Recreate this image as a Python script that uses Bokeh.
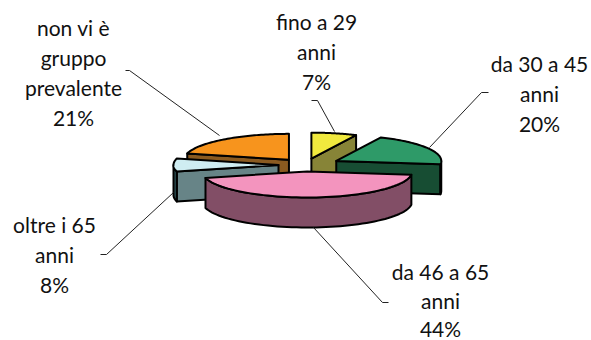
import numpy as np
from bokeh.plotting import figure
from bokeh.core.properties import value
from bokeh.embed import file_html
from bokeh.resources import INLINE

categories = ["fino a 29 anni", "da 30 a 45 anni", "da 46 a 65 anni", "oltre i 65 anni", "non vi è gruppo prevalente"]
shares = [7, 20, 44, 8, 21]
label_lines = [["fino a 29", "anni"], ["da 30 a 45", "anni"], ["da 46 a 65", "anni"], ["oltre i 65", "anni"], ["non vi è", "gruppo", "prevalente"]]
top_colors = ["#F0E93E", "#2E9A68", "#F394BE", "#CFEDF2", "#F7941D"]
side_colors = ["#878437", "#174D33", "#824E66", "#678487", "#8A5A20"]
wall_colors = ["#878437", "#174D33", "#824E66", "#2E5155", "#8A5A20"]

# layout of the projected pie
CX, CY, RX, RY, DEPTH, EX, EY = 305.0, 164.5, 105.0, 26.0, 30.0, 27.0, 6.5
explode = [1.0, 1.3, 1.0, 1.0, 1.0]
label_xy = [(316, 21), (539, 63), (440, 271), (54, 224), (73, 27)]
line_h = [30, 30, 28.5, 30, 30]
FONT = "Lato"
FONT_SIZE = "21px"
leaders = [
    [(311, 100), (317, 100), (334, 131)],
    [(488, 92), (481, 92), (429, 147)],
    [(388, 302), (382, 302), (313, 227)],
    [(100, 254), (106, 254), (173, 192)],
    [(125, 70), (129, 70), (219, 135)],
]
draw_order = [4, 0, 1, 3, 2]

p = figure(width=591, height=340, x_range=(0, 591), y_range=(340, 0),
           output_backend="svg", toolbar_location=None, min_border=0)
p.axis.visible = False
p.grid.visible = False
p.outline_line_color = None

edges = np.cumsum([0] + shares) / sum(shares) * 360.0


def rim(ax, ay, a):
    r = np.radians(a)
    return ax + RX * np.sin(r), ay - RY * np.cos(r)


def shape(xs, ys, color):
    p.patch(list(xs), list(ys), fill_color=color, line_color="black",
            line_width=2, line_join="round")


for i in draw_order:
    a0, a1 = edges[i], edges[i + 1]
    mid = np.radians((a0 + a1) / 2)
    ax = CX + explode[i] * EX * np.sin(mid)
    ay = CY - explode[i] * EY * np.cos(mid)

    # visible cut faces
    for ang, visible in ((a0, np.sin(np.radians(a0)) < -1e-6), (a1, np.sin(np.radians(a1)) > 1e-6)):
        if visible:
            x, y = rim(ax, ay, ang)
            shape([ax, x, x, ax], [ay, y, y + DEPTH, ay + DEPTH], side_colors[i])

    # outer wall
    w0, w1 = max(a0, 90.0), min(a1, 270.0)
    if w1 > w0:
        t = np.linspace(w0, w1, 60)
        x, y = rim(ax, ay, t)
        shape(np.r_[x, x[::-1]], np.r_[y, y[::-1] + DEPTH], wall_colors[i])

    # top
    t = np.linspace(a0, a1, 60)
    x, y = rim(ax, ay, t)
    shape(np.r_[ax, x], np.r_[ay, y], top_colors[i])

p.multi_line([[q[0] for q in l] for l in leaders], [[q[1] for q in l] for l in leaders],
             line_color="#222222", line_width=1)

tx, ty, tt = [], [], []
for i, lines in enumerate(label_lines):
    for k, s in enumerate(lines + [f"{shares[i]}%"]):
        tx.append(label_xy[i][0])
        ty.append(label_xy[i][1] + k * line_h[i])
        tt.append(s)
p.text(tx, ty, text=tt, text_font=value(FONT), text_font_size=value(FONT_SIZE),
       text_align="center", text_baseline="middle", text_color="#111111")

open("out.html", "w").write(file_html(p, INLINE))
